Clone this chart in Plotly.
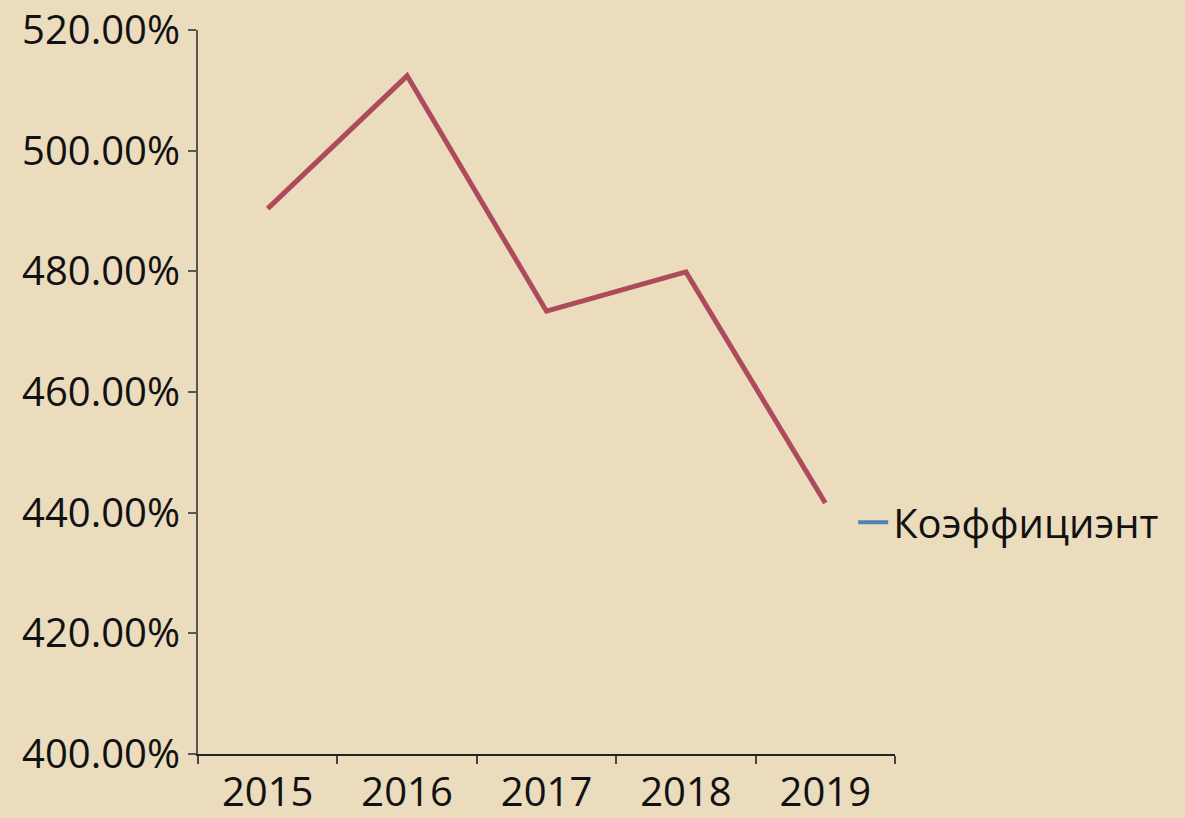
import plotly.graph_objects as go

years = ["2015", "2016", "2017", "2018", "2019"]
coef = [4.904, 5.124, 4.734, 4.799, 4.416]
series_name = "Коэффициэнт"

fig = go.Figure()

# the drawn line is red, but the legend shows a blue marker (as in the source chart)
fig.add_trace(go.Scatter(
    x=years, y=coef, mode="lines",
    line=dict(color="#ad4a5b", width=5),
    showlegend=False
))
fig.add_trace(go.Scatter(
    x=[None], y=[None], mode="lines", name=series_name,
    line=dict(color="#4f81bd", width=4)
))

fig.update_layout(
    width=1185, height=818,
    margin=dict(l=198, r=290, t=30, b=64),
    paper_bgcolor="#eadcbd",
    plot_bgcolor="#eadcbd",
    font=dict(family="Open Sans, DejaVu Sans", size=40, color="#111"),
    legend=dict(x=0.94, y=0.32, xanchor="left", yanchor="middle",
                bgcolor="rgba(0,0,0,0)", itemwidth=30,
                font=dict(size=40)),
    xaxis=dict(
        type="category", showgrid=False, showline=True, automargin=False,
        linecolor="#222", linewidth=2,
        ticks="outside", tickson="boundaries", ticklen=8,
        tickcolor="#444", tickwidth=2, ticklabelstandoff=2,
        ticklabeloverflow="allow",
        range=[-0.5, 4.5]
    ),
    yaxis=dict(
        range=[4.0, 5.2], dtick=0.2, tickformat=".2%", automargin=False,
        showgrid=False, showline=True, linecolor="#555", linewidth=2,
        ticks="outside", ticklen=8, tickcolor="#555", tickwidth=2,
        ticklabeloverflow="allow", zeroline=False
    ),
)

fig.write_html("out.html", config={"displayModeBar": False},
               post_script="document.body.style.margin='0';")
